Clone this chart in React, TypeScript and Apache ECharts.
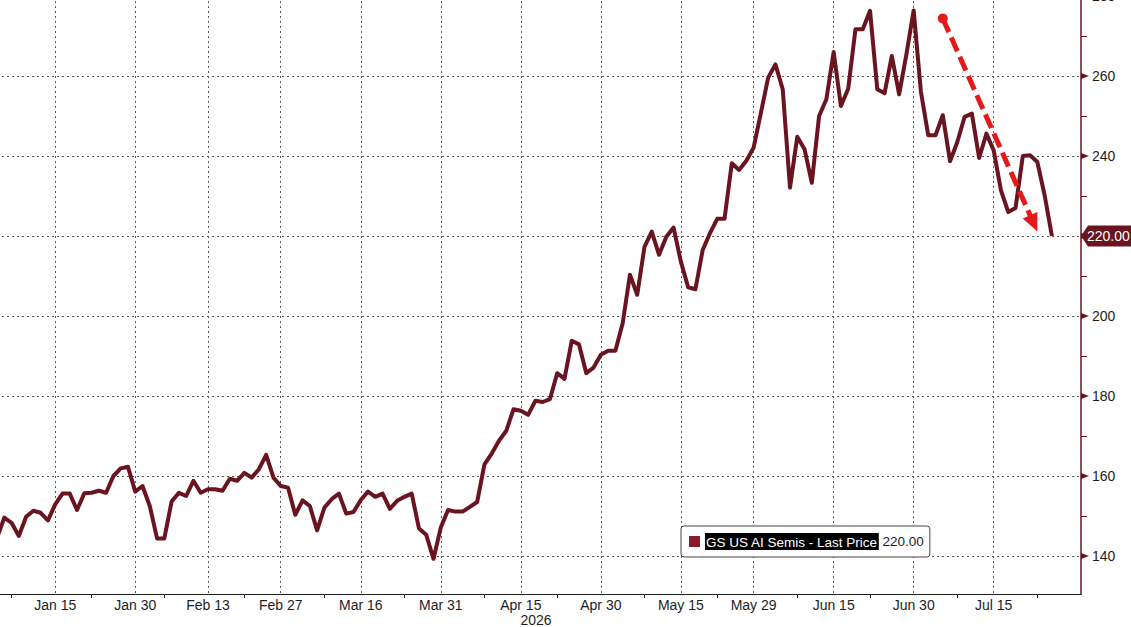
import { useEffect, useRef } from 'react'
import * as echarts from 'echarts'

const SERIES_NAME = 'GS US AI Semis - Last Price'
const FIRST_DAY = '2026-01-05'
const LAST_DAY = '2026-07-31'
const YEAR_LABEL = '2026'

// labelled dates on the time axis, plus the small ticks between them
const X_LABELS = [
  'Jan 15', 'Jan 30', 'Feb 13', 'Feb 27', 'Mar 16', 'Mar 31', 'Apr 15',
  'Apr 30', 'May 15', 'May 29', 'Jun 15', 'Jun 30', 'Jul 15',
]
const X_MINOR_TICKS = [
  'Jan 7', 'Jan 22', 'Feb 5', 'Feb 20', 'Mar 9', 'Mar 24', 'Apr 8',
  'Apr 22', 'May 8', 'May 22', 'Jun 8', 'Jun 22', 'Jul 8', 'Jul 23',
]
const Y_TICKS = [140, 160, 180, 200, 220, 240, 260, 280]

// daily closes, one per weekday from Jan 5
const PRICES = [
  144.5, 149.6, 148.3, 145, 149.8, 151.3, 150.8, 148.9, 152.9, 155.6,
  155.6, 151.5, 155.7, 155.8, 156.3, 155.8, 160, 161.9, 162.3, 156.1,
  157.5, 152.5, 144.4, 144.4, 153.6, 155.8, 155, 158.8, 155.8, 156.7,
  156.7, 156.3, 159.3, 158.8, 160.8, 159.6, 161.7, 165.3, 159.6, 157.5,
  157.1, 150.3, 153.9, 152.5, 146.4, 152.1, 154.2, 155.6, 150.6, 151,
  154, 156.1, 154.8, 155.6, 151.8, 153.8, 154.8, 155.6, 146.9, 145.3,
  139.3, 147.1, 151.5, 151.1, 151.1, 152.3, 153.5, 162.9, 165.6, 168.8,
  171.3, 176.7, 176.3, 175.3, 178.8, 178.5, 179.2, 185.7, 184.3, 193.8,
  192.9, 185.7, 187.1, 190.3, 191.3, 191.3, 198.2, 210.3, 205.3, 217.3,
  221.1, 215.3, 219.8, 222.1, 213.6, 207.2, 206.7, 216.5, 220.7, 224.3,
  224.3, 238.2, 236.5, 238.8, 242.1, 250.8, 259.6, 262.9, 256.7, 232.1,
  244.8, 241.7, 233.3, 250, 254.2, 266, 252.5, 256.8, 271.7, 271.7,
  276.3, 256.7, 255.7, 265, 255.4, 265.4, 276.4, 256, 245.2, 245.2,
  250.2, 238.7, 243.5, 249.8, 250.6, 239.5, 245.6, 241.4, 231.4, 226,
  227, 240, 240.2, 238.5, 230.2, 220,
]

// red trend arrow drawn over the last weeks
const ARROW_FROM: [string, number] = ['Jul 6', 274.4]
const ARROW_TO: [string, number] = ['Jul 23', 221.1]

const MONTHS = ['Jan', 'Feb', 'Mar', 'Apr', 'May', 'Jun', 'Jul', 'Aug', 'Sep', 'Oct', 'Nov', 'Dec']

function weekdays(from: string, to: string) {
  const out: string[] = []
  const d = new Date(from + 'T00:00:00Z')
  const end = new Date(to + 'T00:00:00Z')
  while (d <= end) {
    const wd = d.getUTCDay()
    if (wd !== 0 && wd !== 6) out.push(`${MONTHS[d.getUTCMonth()]} ${d.getUTCDate()}`)
    d.setUTCDate(d.getUTCDate() + 1)
  }
  return out
}

const DATES = weekdays(FIRST_DAY, LAST_DAY)

const LINE_COLOR = '#6a1420'
const AXIS_COLOR = '#6a1420'
const GRID_COLOR = '#555'
const TEXT_COLOR = '#1e1e1e'
const FONT = "'Liberation Sans', Arial, sans-serif"

export default function App() {
  const chartRef = useRef<HTMLDivElement>(null)

  useEffect(() => {
    if (!chartRef.current) return
    const chart = echarts.init(chartRef.current, undefined, { renderer: 'svg' })
    const last = PRICES[PRICES.length - 1]

    chart.setOption({
      animation: false,
      backgroundColor: '#fff',
      textStyle: { fontFamily: FONT },
      grid: { left: -3, right: 50, top: -4, bottom: 33, outerBoundsMode: 'none', containLabel: false },
      legend: {
        left: 681,
        top: 526,
        padding: [7, 6, 7, 8],
        backgroundColor: '#fff',
        borderColor: '#444',
        borderWidth: 1,
        borderRadius: 3,
        icon: 'rect',
        itemWidth: 11,
        itemHeight: 11,
        data: [{ name: SERIES_NAME, itemStyle: { color: '#8a1b2b' } }],
        formatter: () => `{hl|${SERIES_NAME}} {v|${last.toFixed(2)}}`,
        textStyle: {
          fontFamily: FONT,
          fontSize: 13.5,
          rich: {
            hl: { backgroundColor: '#000', color: '#fff', fontSize: 13.5, padding: [2, 1, 1, 1], fontFamily: FONT },
            v: { color: TEXT_COLOR, fontSize: 13.5, fontFamily: FONT },
          },
        },
      },
      xAxis: {
        type: 'category',
        data: DATES,
        boundaryGap: false,
        axisLine: { lineStyle: { color: '#222', width: 1 } },
        axisTick: {
          interval: (_: number, v: string) => X_MINOR_TICKS.includes(v),
          length: 4,
          lineStyle: { color: '#222' },
        },
        axisLabel: {
          interval: (_: number, v: string) => X_LABELS.includes(v),
          color: TEXT_COLOR,
          fontSize: 14,
          margin: 4,
          fontFamily: FONT,
        },
        splitLine: {
          show: true,
          interval: (_: number, v: string) => X_LABELS.includes(v),
          lineStyle: { type: [2, 3], color: GRID_COLOR, width: 1 },
        },
      },
      yAxis: {
        type: 'value',
        position: 'right',
        min: 130.5,
        max: 280,
        splitNumber: 7,
        minInterval: 20,
        maxInterval: 20,
        axisLine: { show: true, lineStyle: { color: AXIS_COLOR, width: 1.5 } },
        axisTick: { show: false },
        minorTick: { show: true, splitNumber: 2, length: 6, lineStyle: { color: AXIS_COLOR, width: 1 } },
        axisLabel: {
          showMinLabel: false,
          color: TEXT_COLOR,
          fontSize: 14,
          margin: 11,
          fontFamily: FONT,
          // the last-price tag covers its own level
          formatter: (v: number) => (Math.abs(v - last) < 1 ? '' : String(v)),
        },
        splitLine: { lineStyle: { type: [2, 3], color: GRID_COLOR, width: 1 } },
      },
      series: [
        {
          name: SERIES_NAME,
          type: 'line',
          data: PRICES,
          symbol: 'none',
          color: LINE_COLOR,
          lineStyle: { color: LINE_COLOR, width: 4, join: 'round' },
        },
      ],
    })

    // overlays that sit on the axis scale: tick arrows, last-price tag, trend arrow
    const yPx = (v: number) => chart.convertToPixel({ yAxisIndex: 0 }, v) as number
    const pt = (p: [string, number]) => chart.convertToPixel({ gridIndex: 0 }, p) as number[]
    const axisX = 1081

    const tickArrows = Y_TICKS.map((t) => {
      const y = yPx(t)
      return {
        type: 'polygon',
        silent: true,
        shape: { points: [[axisX, y - 3], [axisX + 8, y], [axisX, y + 3]] },
        style: { fill: AXIS_COLOR },
      }
    })

    const ly = yPx(last)
    const tag = [
      {
        type: 'polygon',
        silent: true,
        z: 10,
        shape: {
          points: [[axisX, ly], [axisX + 7, ly - 10.5], [1131, ly - 10.5], [1131, ly + 10.5], [axisX + 7, ly + 10.5]],
        },
        style: { fill: LINE_COLOR },
      },
      {
        type: 'text',
        silent: true,
        z: 11,
        x: axisX + 6,
        y: ly,
        style: { text: last.toFixed(2), fill: '#fff', fontSize: 14, fontFamily: FONT, verticalAlign: 'middle' },
      },
    ]

    const a = pt(ARROW_FROM)
    const b = pt(ARROW_TO)
    const dx = b[0] - a[0]
    const dy = b[1] - a[1]
    const len = Math.hypot(dx, dy)
    const ux = dx / len
    const uy = dy / len
    const headLen = 18
    const headHalf = 8
    const base = [b[0] - ux * headLen, b[1] - uy * headLen]
    const arrow = [
      {
        type: 'line',
        silent: true,
        z: 20,
        shape: { x1: a[0], y1: a[1], x2: base[0] + ux * 2, y2: base[1] + uy * 2 },
        style: { stroke: '#e3191c', lineWidth: 5, lineDash: [15, 6] },
      },
      {
        type: 'polygon',
        silent: true,
        z: 20,
        shape: {
          points: [
            [b[0], b[1]],
            [base[0] - uy * headHalf, base[1] + ux * headHalf],
            [base[0] + uy * headHalf, base[1] - ux * headHalf],
          ],
        },
        style: { fill: '#e3191c' },
      },
      {
        type: 'circle',
        silent: true,
        z: 21,
        shape: { cx: a[0], cy: a[1], r: 5 },
        style: { fill: '#e3191c' },
      },
    ]

    const year = {
      type: 'text',
      silent: true,
      x: 536,
      y: 620,
      style: { text: YEAR_LABEL, fill: TEXT_COLOR, fontSize: 14, fontFamily: FONT, align: 'center', verticalAlign: 'middle' },
    }

    chart.setOption({ graphic: [...tickArrows, ...tag, ...arrow, year] })

    return () => {
      chart.dispose()
    }
  }, [])

  return (
    <div
      ref={chartRef}
      style={{ position: 'fixed', left: 0, top: 0, width: 1131, height: 627, background: '#fff' }}
    />
  )
}
